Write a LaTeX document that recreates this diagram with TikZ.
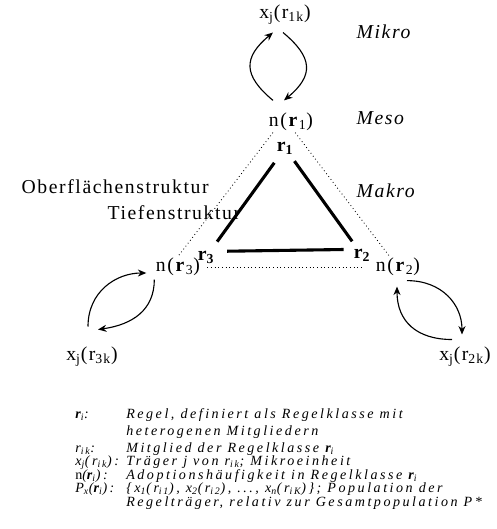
\documentclass[tikz,border=0pt]{standalone}
\usepackage{fontspec}
\setmainfont{Liberation Serif}
\newfontfamily\spacedfont[LetterSpace=8]{Liberation Serif}
\newfontfamily\legendfont[LetterSpace=18]{Liberation Serif}
\usetikzlibrary{arrows.meta}

\begin{document}
\begin{tikzpicture}[x=0.025cm, y=-0.025cm,
        % labels in the diagram (widely spaced, as in the scan)
        lbl/.style={font=\spacedfont\fontsize{14}{16}\selectfont, inner sep=1pt},
        % level names on the right
        lvl/.style={font=\spacedfont\itshape\fontsize{14}{16}\selectfont, inner sep=1pt, anchor=west},
        % rule triangle and its dotted outline
        heavy/.style={line width=2.2pt},
        outline/.style={dotted, line width=0.6pt},
        % feedback loops
        loopline/.style={line width=0.8pt, -{Stealth[length=6pt, width=5pt]}},
        % legend below the diagram
        legkey/.style={font=\legendfont\itshape\fontsize{10}{12}\selectfont, anchor=base west, inner sep=0pt},
        legtxt/.style={legkey}
    ]
    \useasboundingbox (0,0) rectangle (496,529);

    % --- Top: rule 1 with its carriers ---
    \node[lbl] (xr1) at (285,15) {x\textsubscript{j}(r\textsubscript{1k})};
    \node[lvl] (lvl_mikro) at (355,32) {Mikro};
    \node[lbl] (nr1) at (291,122) {n(\textbf{r}\textsubscript{1})};
    \node[lvl] (lvl_meso) at (355,118) {Meso};
    \node[lbl] (r1) at (285,148) {\textbf{r\textsubscript{1}}};
    \node[lvl] (lvl_makro) at (355,191) {Makro};

    % --- Structure labels ---
    \node[lbl, anchor=west] (oberfl) at (20,187) {Oberflächenstruktur};
    \node[lbl, anchor=west] (tiefen) at (106,213) {Tiefenstruktur};

    % --- Corners: rules 3 and 2 ---
    \node[lbl] (r3) at (206,257) {\textbf{r\textsubscript{3}}};
    \node[lbl] (r2) at (362,255) {\textbf{r\textsubscript{2}}};
    \node[lbl] (nr3) at (178,267) {n(\textbf{r}\textsubscript{3})};
    \node[lbl] (nr2) at (398,267) {n(\textbf{r}\textsubscript{2})};
    \node[lbl] (xr3) at (92,357) {x\textsubscript{j}(r\textsubscript{3k})};
    \node[lbl] (xr2) at (465,357) {x\textsubscript{j}(r\textsubscript{2k})};

    % --- Thick triangle between the rules ---
    \draw[heavy, shorten <=13pt, shorten >=13.5pt] (r1.center) -- (r3.center);
    \draw[heavy, shorten <=11.5pt, shorten >=12pt] (r1.center) -- (r2.center);
    \draw[heavy, shorten <=8pt, shorten >=6pt] ([yshift=4pt]r3.east) -- ([yshift=4pt]r2.west);

    % --- Dotted triangle between the frequencies ---
    \draw[outline] ([xshift=4pt]nr1.south west) -- (nr3.north);
    \draw[outline] ([xshift=3pt]nr1.south) -- ([xshift=-6pt]nr2.north);
    \draw[outline, shorten <=4pt, shorten >=9pt] (nr3.east) -- (nr2.west);

    % --- Loops between frequency and carriers ---
    \draw[loopline] ([shift={(-18,-11)}]nr1.north) .. controls +(-30,-25) and +(-30,25) .. ([shift={(-12,6)}]xr1.south);
    \draw[loopline] ([shift={(-2,6)}]xr1.south) .. controls +(30,25) and +(30,-25) .. ([shift={(-7,-11)}]nr1.north);

    \draw[loopline] ([shift={(0,2)}]nr3.south west) .. controls +(0,30) and +(35,-5) .. ([shift={(6,-16)}]xr3.north);
    \draw[loopline] ([shift={(-4,-19)}]xr3.north) .. controls +(0,-35) and +(-30,0) .. ([shift={(-8,6)}]nr3.west);

    \draw[loopline] ([shift={(9,3)}]nr2.south) .. controls +(35,0) and +(0,-30) .. ([shift={(-3,-11)}]xr2.north);
    \draw[loopline] ([shift={(-13,-6)}]xr2.north) .. controls +(-35,0) and +(0,35) .. ([shift={(-1,9)}]nr2.south);

    % --- Legend ---
    \node[legkey] (key_ri) at (75,418) {\textbf{r}\textsubscript{i}:};
    \node[legtxt] (txt_ri) at (126,418) {Regel, definiert als Regelklasse mit};
    \node[legtxt] (txt_ri_b) at (126,435) {heterogenen Mitgliedern};
    \node[legkey] (key_rik) at (75,452) {r\textsubscript{ik}:};
    \node[legtxt] (txt_rik) at (126,452) {Mitglied der Regelklasse \textbf{r}\textsubscript{i}};
    \node[legkey] (key_xj) at (75,465.5) {x\textsubscript{j}(r\textsubscript{ik}):};
    \node[legtxt] (txt_xj) at (126,465.5) {Träger j von r\textsubscript{ik}; Mikroeinheit};
    \node[legkey] (key_n) at (75,479) {{\upshape n}(\textbf{r}\textsubscript{i}):};
    \node[legtxt] (txt_n) at (126,479) {Adoptionshäufigkeit in Regelklasse \textbf{r}\textsubscript{i}};
    \node[legkey] (key_p) at (75,492.5) {P\textsubscript{x}(\textbf{r}\textsubscript{i}):};
    \node[legtxt] (txt_p) at (126,492.5) {\{x\textsubscript{1}(r\textsubscript{i1}), x\textsubscript{2}(r\textsubscript{i2}), ..., x\textsubscript{n}(r\textsubscript{iK})\}; Population der};
    \node[legtxt] (txt_p_b) at (126,506) {Regelträger, relativ zur Gesamtpopulation P*};

\end{tikzpicture}
\end{document}
